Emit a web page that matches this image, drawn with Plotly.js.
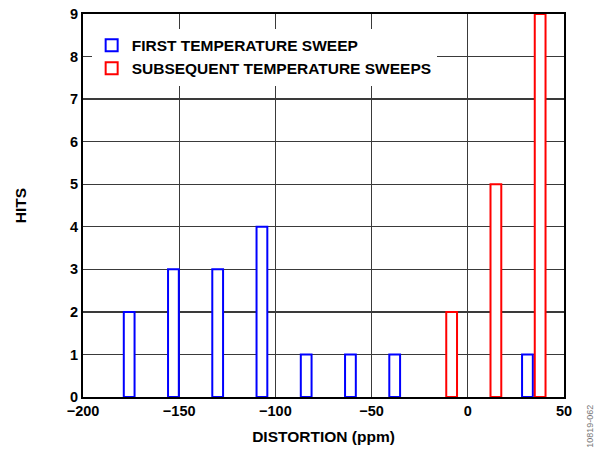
<!DOCTYPE html>
<html>
<head>
<meta charset="utf-8">
<script src="https://cdn.plot.ly/plotly-3.0.1.min.js"></script>
<style>html,body{margin:0;padding:0;background:#fff;}#chart{width:597px;height:450px;}</style>
</head>
<body>
<div id="chart"></div>
<script>
// Data
const firstSweepX = [-176, -153, -130, -107, -84, -61, -38, 31];
const firstSweepHits = [2, 3, 3, 4, 1, 1, 1, 1];
const laterSweepX = [-8.4, 14.6, 37.6];
const laterSweepHits = [2, 5, 9];
const seriesNames = ["FIRST TEMPERATURE SWEEP", "SUBSEQUENT TEMPERATURE SWEEPS"];
const xTicks = [-200, -150, -100, -50, 0, 50];
const yTicks = [0, 1, 2, 3, 4, 5, 6, 7, 8, 9];

const FONT = "'Liberation Sans', Arial, Helvetica, sans-serif";
const barWidth = 5.6;

const traces = [
  {
    type: 'bar', name: seriesNames[0], x: firstSweepX, y: firstSweepHits,
    width: firstSweepX.map(() => barWidth),
    marker: {color: '#ffffff', line: {color: '#0000ff', width: 2}},
    cliponaxis: false
  },
  {
    type: 'bar', name: seriesNames[1], x: laterSweepX, y: laterSweepHits,
    width: laterSweepX.map(() => barWidth),
    marker: {color: '#ffffff', line: {color: '#ff0000', width: 2}},
    cliponaxis: false
  }
];

const tickFont = {family: FONT, size: 14.5, color: '#000', weight: 'bold'};
const titleFont = {family: FONT, size: 15.5, color: '#000', weight: 'bold'};

const layout = {
  width: 597, height: 450,
  margin: {l: 83, r: 33, t: 14, b: 53},
  paper_bgcolor: '#fff', plot_bgcolor: '#fff',
  barmode: 'overlay',
  showlegend: true,
  legend: {
    x: 0.018, y: 0.962, xanchor: 'left', yanchor: 'top',
    bgcolor: '#ffffff', borderwidth: 0, traceorder: 'normal',
    font: {family: FONT, size: 15.5, color: '#000', weight: 'bold'},
    tracegroupgap: 0, itemwidth: 30
  },
  xaxis: {
    range: [-200, 50], tickmode: 'array', tickvals: xTicks,
    showgrid: true, gridcolor: '#3a3a3a', gridwidth: 1.3,
    zeroline: false, showline: true, mirror: true, linecolor: '#000', linewidth: 2,
    ticks: '', tickfont: tickFont,
    title: {text: 'DISTORTION (ppm)', font: titleFont, standoff: 13},
    fixedrange: true
  },
  yaxis: {
    range: [0, 9], tickmode: 'array', tickvals: yTicks,
    showgrid: true, gridcolor: '#3a3a3a', gridwidth: 1.3,
    zeroline: false, showline: true, mirror: true, linecolor: '#000', linewidth: 2,
    ticks: '', tickfont: tickFont,
    title: {text: 'HITS', font: titleFont, standoff: 40},
    fixedrange: true
  },
  annotations: [{
    text: '10819-062', xref: 'paper', yref: 'paper',
    x: 1.055, y: -0.015, xanchor: 'center', yanchor: 'top',
    textangle: -90, showarrow: false,
    font: {family: FONT, size: 9, color: '#777'}
  }]
};

Plotly.newPlot('chart', traces, layout, {displayModeBar: false, staticPlot: true});
</script>
</body>
</html>
